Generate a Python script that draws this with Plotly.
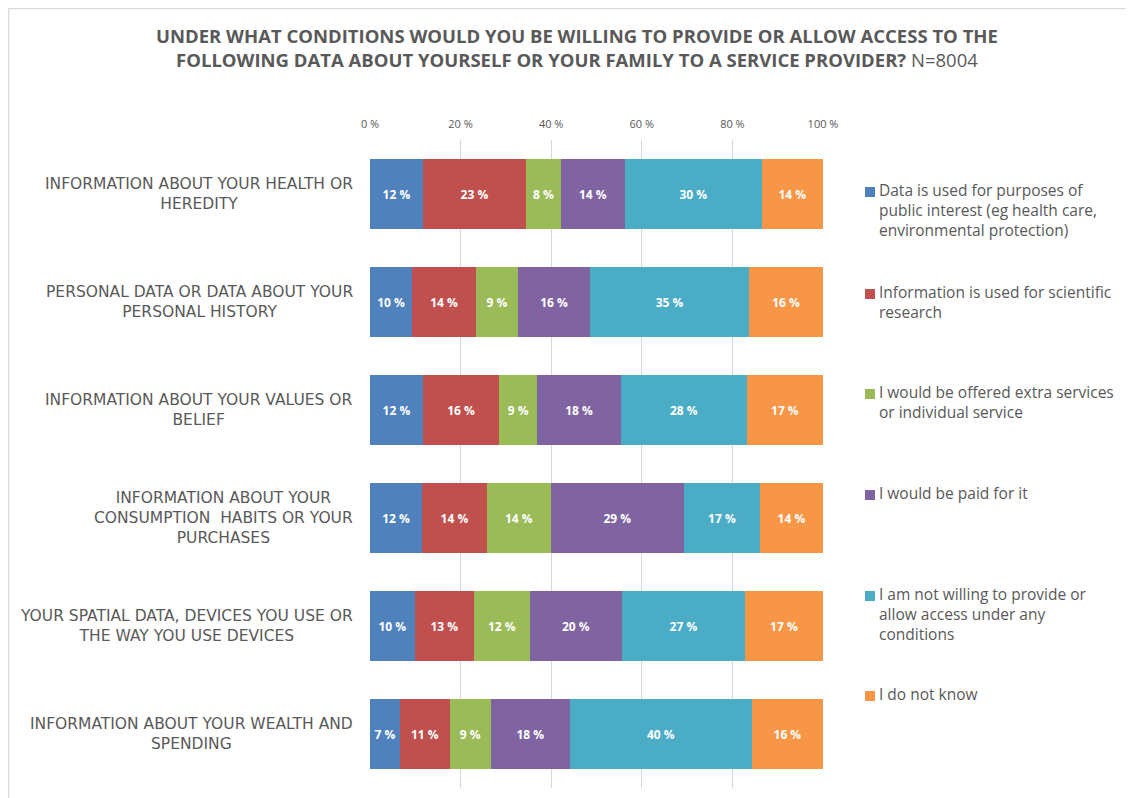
import plotly.graph_objects as go

categories = [
    "INFORMATION ABOUT YOUR HEALTH OR<br>HEREDITY",
    "PERSONAL DATA OR DATA ABOUT YOUR<br>PERSONAL HISTORY",
    "INFORMATION ABOUT YOUR VALUES OR<br>BELIEF",
    "INFORMATION ABOUT YOUR<br>CONSUMPTION  HABITS OR YOUR<br>PURCHASES",
    "YOUR SPATIAL DATA, DEVICES YOU USE OR<br>THE WAY YOU USE DEVICES",
    "INFORMATION ABOUT YOUR WEALTH AND<br>SPENDING",
]
cat_ids = ["c1", "c2", "c3", "c4", "c5", "c6"]

series_names = [
    "Data is used for purposes of<br>public interest (eg health care,<br>environmental protection)",
    "Information is used for scientific<br>research",
    "I would be offered extra services<br>or individual service",
    "I would be paid for it",
    "I am not willing to provide or<br>allow access under any<br>conditions",
    "I do not know",
]
colors = ["#4F81BD", "#C0504D", "#9BBB59", "#8064A2", "#4BACC6", "#F79646"]

# Bar widths (percent)
public_interest = [11.7, 9.3, 11.7, 11.5, 9.9, 6.6]
scientific = [22.7, 14.1, 16.8, 14.3, 13.0, 11.0]
extra_services = [7.7, 9.3, 8.4, 14.1, 12.4, 9.1]
paid = [14.1, 15.9, 18.5, 29.4, 20.3, 17.4]
not_willing = [30.2, 35.1, 27.8, 16.8, 27.2, 40.2]
dont_know = [13.5, 16.3, 16.8, 13.9, 17.2, 15.7]

# Data labels as printed on the bars
public_interest_lbl = [12, 10, 12, 12, 10, 7]
scientific_lbl = [23, 14, 16, 14, 13, 11]
extra_services_lbl = [8, 9, 9, 14, 12, 9]
paid_lbl = [14, 16, 18, 29, 20, 18]
not_willing_lbl = [30, 35, 28, 17, 27, 40]
dont_know_lbl = [14, 16, 17, 14, 17, 16]

values = [public_interest, scientific, extra_services, paid, not_willing, dont_know]
labels = [public_interest_lbl, scientific_lbl, extra_services_lbl, paid_lbl,
          not_willing_lbl, dont_know_lbl]

tick_vals = [0, 20, 40, 60, 80, 100]
tick_text = ["0 %", "20 %", "40 %", "60 %", "80 %", "100 %"]

# page body has an 8px offset; target plot area (screen px) is x 370-823, y 140-788
OFF = 8
PL, PR, PT, PB = 370, 823, 140, 788
PW, PH = PR - PL, PB - PT


def px(x):
    return (x - PL) / PW


def py(y):
    return 1 - (y - PT) / PH


fig = go.Figure()
for name, vals, lbls, col in zip(series_names, values, labels, colors):
    fig.add_trace(go.Bar(
        y=cat_ids, x=vals, orientation="h", name=name,
        marker=dict(color=col, line=dict(width=0)),
        text=[f"{v} %" for v in lbls],
        textposition="inside", insidetextanchor="middle",
        textfont=dict(family="Open Sans", size=12, color="white", weight="bold"),
        textangle=0, constraintext="none",
        showlegend=False, hoverinfo="x+name",
    ))

grey = "#595959"
fig.update_layout(
    width=1134, height=798,
    barmode="stack", barnorm="percent", bargap=0.35,
    paper_bgcolor="white", plot_bgcolor="white",
    margin=dict(l=PL - OFF, r=1134 - PR + OFF, t=PT - OFF, b=798 - PB + OFF),
    uniformtext=dict(mode=False),
    xaxis=dict(side="top", range=[0, 100], tickvals=tick_vals, ticktext=tick_text,
               showgrid=True, gridcolor="#d9d9d9", gridwidth=1, zeroline=False,
               showline=False, ticks="", ticklabelstandoff=9,
               tickfont=dict(family="Open Sans", size=11, color=grey)),
    yaxis=dict(categoryorder="array", categoryarray=cat_ids, autorange="reversed",
               showticklabels=False, showgrid=False, zeroline=False, ticks=""),
    font=dict(family="Open Sans", color=grey),
)

# Title
fig.add_annotation(
    xref="paper", yref="paper", x=px(577), y=py(47.5),
    xanchor="center", yanchor="middle", showarrow=False, align="center",
    text="<b>UNDER WHAT CONDITIONS WOULD YOU BE WILLING TO PROVIDE OR ALLOW ACCESS TO THE<br>"
         "FOLLOWING DATA ABOUT YOURSELF OR YOUR FAMILY TO A SERVICE PROVIDER?</b> N=8004",
    font=dict(family="Open Sans", size=18.5, color=grey),
)

# Category labels
for cid, cat in zip(cat_ids, categories):
    fig.add_annotation(
        xref="paper", yref="y", x=px(355), y=cid,
        xanchor="right", yanchor="middle", showarrow=False, align="center",
        text=cat, font=dict(family="DejaVu Sans", size=15.5, color=grey),
    )

# Legend (manual)
legend_y_px = [189, 291, 391, 492, 593, 693]
for name, col, ypx in zip(series_names, colors, legend_y_px):
    fig.add_annotation(
        xref="paper", yref="paper", x=px(877), y=py(ypx - 12),
        xanchor="left", yanchor="top", showarrow=False, align="left",
        text=name, font=dict(family="Open Sans", size=15.5, color=grey),
    )
    fig.add_shape(
        type="rect", xref="paper", yref="paper",
        x0=px(865), x1=px(875), y0=py(ypx + 8), y1=py(ypx - 2),
        fillcolor=col, line=dict(width=0),
    )

# Chart border (top and left edges)
fig.add_shape(type="line", xref="paper", yref="paper",
              x0=px(OFF + 0.5), x1=px(1134 + OFF), y0=py(OFF + 0.5), y1=py(OFF + 0.5),
              line=dict(color="#d9d9d9", width=1.5))
fig.add_shape(type="line", xref="paper", yref="paper",
              x0=px(OFF + 0.5), x1=px(OFF + 0.5), y0=py(OFF + 0.5), y1=py(798 + OFF),
              line=dict(color="#d9d9d9", width=1.5))

fig.write_html("out.html")
